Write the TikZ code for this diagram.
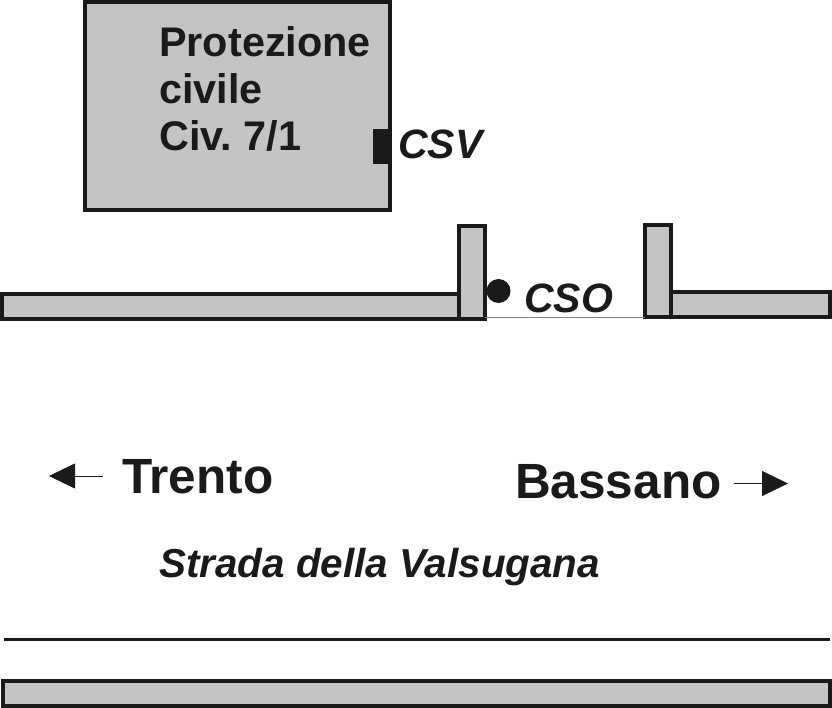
\documentclass[tikz,border=0pt]{standalone}
\usepackage{fontspec}
\setmainfont{Liberation Sans}
\usetikzlibrary{arrows.meta}
\definecolor{wallgray}{HTML}{C4C4C4}
\definecolor{inkblack}{HTML}{1A1A1A}
\begin{document}
\begin{tikzpicture}[x=1pt,y=-1pt] \tikzset{% This is the style settings for nodes
        wall/.style={rectangle,inner sep=0,outer sep=0,fill=wallgray,draw=inkblack,line width=4pt},
        lab/.style={inner sep=0,anchor=base west,text=inkblack},
        place/.style={lab,font=\bfseries\fontsize{41.4}{46}\selectfont,align=left},
        town/.style={lab,font=\bfseries\fontsize{49.5}{50}\selectfont},
        sensor/.style={lab,font=\bfseries\itshape\fontsize{41}{46}\selectfont},
        c1/.style={-{Triangle[length=26pt,width=25pt]},inkblack,line width=0.8pt},
        }
        \useasboundingbox (0,0) rectangle (832,708);
        % Walls
        \node[wall,minimum width=305pt,minimum height=208pt] (civile) at (237.5,106) {};
        \node[wall,minimum width=457pt,minimum height=25.5pt] (wallL) at (230.5,306.3) {};
        \node[wall,minimum width=26pt,minimum height=93pt] (gateL) at (472,272.5) {};
        \node[wall,minimum width=26pt,minimum height=92.5pt] (gateR) at (658,271) {};
        \node[wall,minimum width=159pt,minimum height=25.5pt] (wallR) at (750.5,304.7) {};
        \node[wall,minimum width=827pt,minimum height=25pt] (road) at (416.5,693) {};
        % Sensors
        \node[rectangle,fill=inkblack,inner sep=0,minimum width=17pt,minimum height=35pt] (csv) at (381.5,146.5) {};
        \node[circle,fill=inkblack,inner sep=0,minimum size=24pt] (cso) at (498.5,291) {};
        % Labels
        \node[place] (lblciv) at (159,57) {Protezione};
        \node[place] (lblciv2) at (159,104) {civile};
        \node[place] (lblciv3) at (159,151) {Civ.\ 7/1};
        \node[sensor] (lblcsv) at (398,159) {CSV};
        \node[sensor] (lblcso) at (524,313) {CSO};
        \node[town] (trento) at (122,493) {Trento};
        \node[town] (bassano) at (515,498) {Bassano};
        \node[lab,font=\bfseries\itshape\fontsize{40.4}{44}\selectfont] (strada) at (159,577) {Strada della Valsugana};
        % Free ends
        \coordinate (tl0) at (103,476); \coordinate (tl1) at (49,476);
        \coordinate (br0) at (734,483.5); \coordinate (br1) at (788,483.5);
        \coordinate (kerbL) at (4,639); \coordinate (kerbR) at (830,639);
        %Edges
        \draw[c1] (tl0) -- (tl1); \draw[c1] (br0) -- (br1);
        \draw[inkblack,line width=3pt] (kerbL) -- (kerbR);
        \draw[gray,line width=1pt] (gateL.east |- gateR.south west) -- (gateR.south west);
\end{tikzpicture}
\end{document}
